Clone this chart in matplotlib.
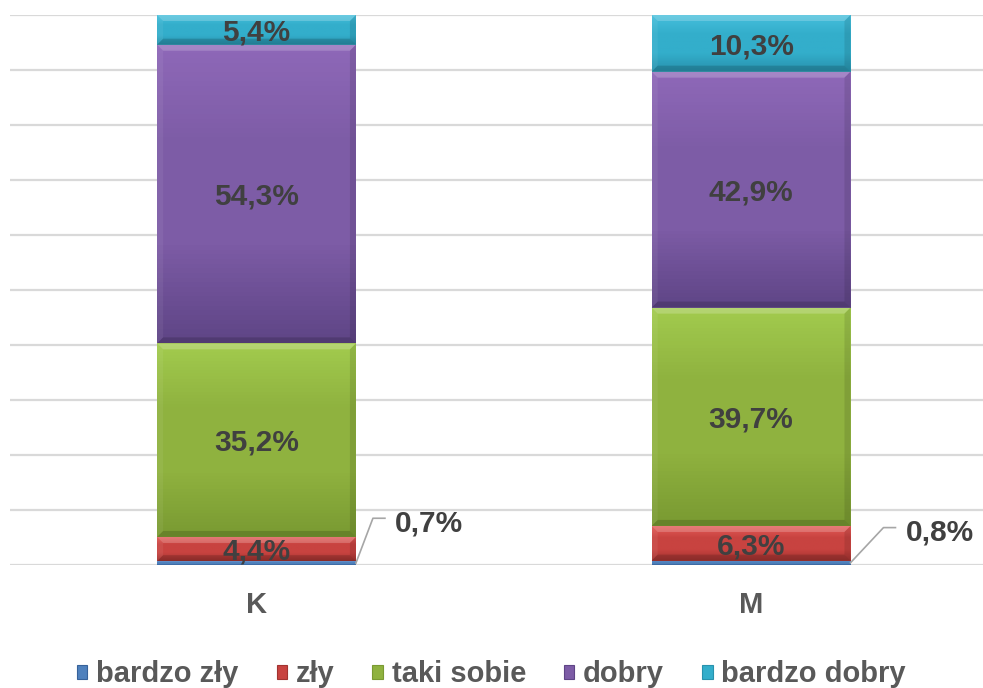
import numpy as np
import matplotlib.pyplot as plt
from matplotlib.colors import LinearSegmentedColormap
from matplotlib.patches import Polygon, Patch

plt.rcParams['font.family'] = ['Liberation Sans', 'DejaVu Sans']

groups = ["K", "M"]
series = ["bardzo zły", "zły", "taki sobie", "dobry", "bardzo dobry"]
bardzo_zly = [0.7, 0.8]
zly = [4.4, 6.3]
taki_sobie = [35.2, 39.7]
dobry = [54.3, 42.9]
bardzo_dobry = [5.4, 10.3]
values = [bardzo_zly, zly, taki_sobie, dobry, bardzo_dobry]

# (top, middle, bottom) shades per series
shades = [
    ("#6f9bd6", "#4f81bd", "#37629a"),
    ("#e25a56", "#c84340", "#a23330"),
    ("#a2cb4e", "#8fb23f", "#7a9a32"),
    ("#8e68b8", "#7d5ca6", "#5f4586"),
    ("#45bedb", "#33aecb", "#2892ad"),
]
base = ["#4f81bd", "#c84340", "#8fb23f", "#7d5ca6", "#33aecb"]

fig = plt.figure(figsize=(9.83, 6.88), dpi=100)
ax = fig.add_axes([10 / 983, 123 / 688, 973 / 983, 550 / 688])

x = np.arange(len(groups))
width = 0.402
ax.set_xlim(-0.4985, 1.469)
ax.set_ylim(0, 100)

px_y = 100 / 550
px_x = 1 / 494.5

bottom = np.zeros(len(groups))
for vals, (top_c, mid_c, bot_c), fc, name in zip(values, shades, base, series):
    vals = np.array(vals)
    bars = ax.bar(x, vals, width, bottom=bottom, color=fc, zorder=2, label=name)
    cmap = LinearSegmentedColormap.from_list(name, [bot_c, mid_c, mid_c, top_c])
    grad = np.linspace(0, 1, 64).reshape(-1, 1)
    for rect, b, v in zip(bars, bottom, vals):
        x0 = rect.get_x()
        x1 = x0 + rect.get_width()
        im = ax.imshow(grad, cmap=cmap, origin="lower", aspect="auto",
                       extent=(x0, x1, b, b + v), zorder=3)
        im.set_clip_path(rect)
        label = f"{v:.1f}%".replace(".", ",")
        if v > 2:
            bx = 6 * px_x
            by = 6 * px_y
            top = b + v
            ax.add_patch(Polygon([(x0, top), (x1, top), (x1 - bx, top - by), (x0 + bx, top - by)],
                                 closed=True, facecolor="white", alpha=0.2, lw=0, zorder=4))
            ax.add_patch(Polygon([(x0, b), (x1, b), (x1 - bx, b + by), (x0 + bx, b + by)],
                                 closed=True, facecolor="black", alpha=0.15, lw=0, zorder=4))
            ax.add_patch(Polygon([(x1, b), (x1, top), (x1 - bx, top - by), (x1 - bx, b + by)],
                                 closed=True, facecolor="black", alpha=0.1, lw=0, zorder=4))
            ax.add_patch(Polygon([(x0, b), (x0, top), (x0 + bx, top - by), (x0 + bx, b + by)],
                                 closed=True, facecolor="white", alpha=0.06, lw=0, zorder=4))
            ax.text(rect.get_x() + rect.get_width() / 2, b + v / 2 - 0.5, label,
                    ha="center", va="center", fontsize=21.5, fontweight="bold",
                    color="#404040", zorder=6)
        else:
            # small share: label outside with a leader line
            rise = 8.5 if rect.get_x() < 0.5 else 6.8
            run = 17 * px_x if rect.get_x() < 0.5 else 33 * px_x
            ax.plot([x1, x1 + run, x1 + run + 12 * px_x],
                    [b + v * 0.5, b + rise, b + rise],
                    color="#a6a6a6", lw=1.2, zorder=5, clip_on=False)
            ax.text(x1 + run + 12 * px_x + 10 * px_x, b + rise - 0.9, label,
                    ha="left", va="center", fontsize=21.5, fontweight="bold",
                    color="#404040", zorder=6)
    bottom = bottom + vals

ax.set_yticks(np.arange(0, 101, 10))
ax.yaxis.grid(True, color="#d9d9d9", lw=1.6, zorder=0)
ax.set_axisbelow(True)
ax.tick_params(axis="y", left=False, labelleft=False)
ax.tick_params(axis="x", length=0, pad=19)
ax.set_xticks(x)
ax.set_xticklabels(groups, fontsize=21, fontweight="bold", color="#595959")
for s in ax.spines.values():
    s.set_visible(False)

handles = [Patch(facecolor=c, edgecolor=s[2], lw=0.8) for c, s in zip(base, shades)]
fig.legend(handles, series, loc="center", bbox_to_anchor=(0.5, 1 - 674 / 688),
           ncol=5, frameon=False, handlelength=0.36, handleheight=0.36,
           handletextpad=0.3, columnspacing=1.3,
           prop={"weight": "bold", "size": 21})
for t in fig.legends[0].get_texts():
    t.set_color("#595959")

fig.savefig("out.png", dpi=100)
